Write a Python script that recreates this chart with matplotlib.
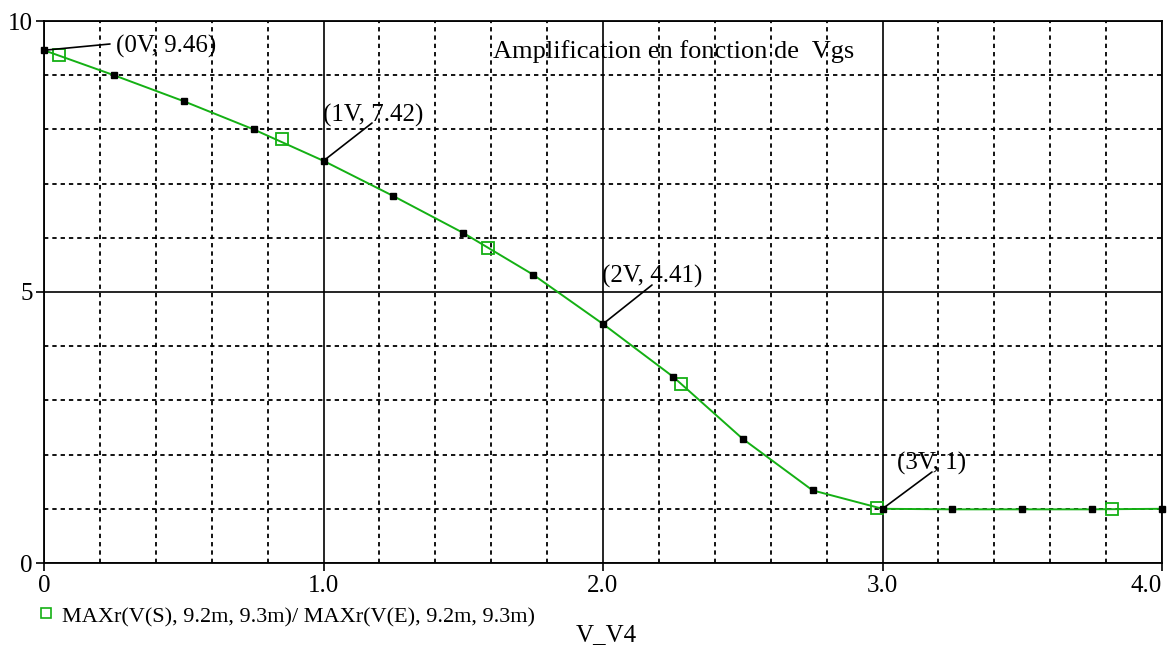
import matplotlib
matplotlib.use("Agg")
import matplotlib.pyplot as plt
from matplotlib.lines import Line2D

# ---- data ----
vgs = [0.0, 0.25, 0.5, 0.75, 1.0, 1.25, 1.5, 1.75, 2.0, 2.25, 2.5, 2.75,
       3.0, 3.25, 3.5, 3.75, 4.0]
gain = [9.46, 9.00, 8.52, 8.00, 7.42, 6.77, 6.09, 5.32, 4.41, 3.44, 2.29, 1.34,
        1.00, 0.99, 0.99, 0.99, 1.00]
# trace symbol positions (PSpice legend symbols along the trace)
sym_x = [0.054, 0.85, 1.59, 2.28, 2.98, 3.82]
sym_y = [9.37, 7.82, 5.81, 3.30, 1.01, 1.00]

xticks = [0, 1, 2, 3, 4]
xticklabels = ["0", "1.0", "2.0", "3.0", "4.0"]
yticks = [0, 5, 10]
yticklabels = ["0", "5", "10"]

ann_points = [(0.0, 9.46), (1.0, 7.42), (2.0, 4.41), (3.0, 1.0)]
ann_labels = ["(0V, 9.46)", "(1V, 7.42)", "(2V, 4.41)", "(3V, 1)"]

title = "Amplification en fonction de  Vgs"
trace_name = "MAXr(V(S), 9.2m, 9.3m)/ MAXr(V(E), 9.2m, 9.3m)"
xlabel = "V_V4"

# ---- style ----
W, H = 1169, 648
GREEN = "#14B014"
FONT = "Liberation Serif"
FS = 18
plt.rcParams["font.family"] = [FONT, "DejaVu Serif"]


def fp(x, y):
    """image pixel -> figure fraction"""
    return (x / W, 1 - y / H)


fig = plt.figure(figsize=(W / 100, H / 100), dpi=100)
x0, y0 = fp(44, 563)
x1, y1 = fp(1162, 21)
ax = fig.add_axes([x0, y0, x1 - x0, y1 - y0])
ax.set_xlim(0, 4)
ax.set_ylim(0, 10)

ax.set_xticks(xticks)
ax.set_xticklabels(xticklabels)
ax.set_xticks([i * 0.2 for i in range(21) if i % 5], minor=True)
ax.set_yticks(yticks)
ax.set_yticklabels(yticklabels)
ax.set_yticks([v for v in range(1, 10) if v != 5], minor=True)

ax.grid(which="major", color="k", lw=1.2, ls="-", zorder=1)
ax.grid(which="minor", color="k", lw=1.3, ls=(0, (2.4, 2.2)), zorder=1)
ax.set_axisbelow(True)
ax.tick_params(which="minor", length=0)
ax.tick_params(which="major", length=6, width=1.2, color="k",
               labelsize=FS, pad=3)
ax.tick_params(axis="y", pad=2)
for lab in ax.get_xticklabels() + ax.get_yticklabels():
    lab.set_fontfamily(FONT)
ax.get_xticklabels()[-1].set_horizontalalignment("right")
for s in ax.spines.values():
    s.set_linewidth(1.3)
    s.set_color("k")

# trace
ax.plot(vgs, gain, color=GREEN, lw=1.4, zorder=3)
ax.plot(vgs, gain, ls="none", marker="s", ms=4.2, color="k", zorder=5,
        clip_on=False)
ax.plot(sym_x, sym_y, ls="none", marker="s", ms=8, mfc="none", mec=GREEN,
        mew=1.3, zorder=4, clip_on=False)

# annotations: (line end pixel, text center pixel x, text baseline pixel y)
ann_geom = [((110, 44), 166, 53), ((372, 123), 373, 122),
            ((652, 285), 652, 283), ((932, 472), 932, 470)]
for pt, g, lab in zip(ann_points, ann_geom, ann_labels):
    (lx, ly), tcx, tby = g
    ax.annotate("", xy=pt, xycoords="data",
                xytext=fp(lx, ly), textcoords="figure fraction",
                arrowprops=dict(arrowstyle="-", color="k", lw=1.2,
                                shrinkA=0, shrinkB=0), zorder=6,
                annotation_clip=False)
    fig.text(*fp(tcx, tby), lab, ha="center", va="baseline", fontsize=FS,
             family=FONT, color="k")

# title
fig.text(*fp(674, 58), title, ha="center", va="baseline", fontsize=FS + 1,
         family=FONT, color="k")

# legend symbol + trace name
fig.add_artist(Line2D([46 / W], [1 - 613 / H], transform=fig.transFigure,
                      marker="s", ms=7.5, mfc="none", mec=GREEN, mew=1.2,
                      ls="none"))
fig.text(*fp(62, 622), trace_name, ha="left", va="baseline", fontsize=16,
         family=FONT, color="k")

# x axis variable name
fig.text(*fp(606, 641), xlabel, ha="center", va="baseline", fontsize=FS,
         family=FONT, color="k")

fig.savefig("out.png", dpi=100, facecolor="white")
